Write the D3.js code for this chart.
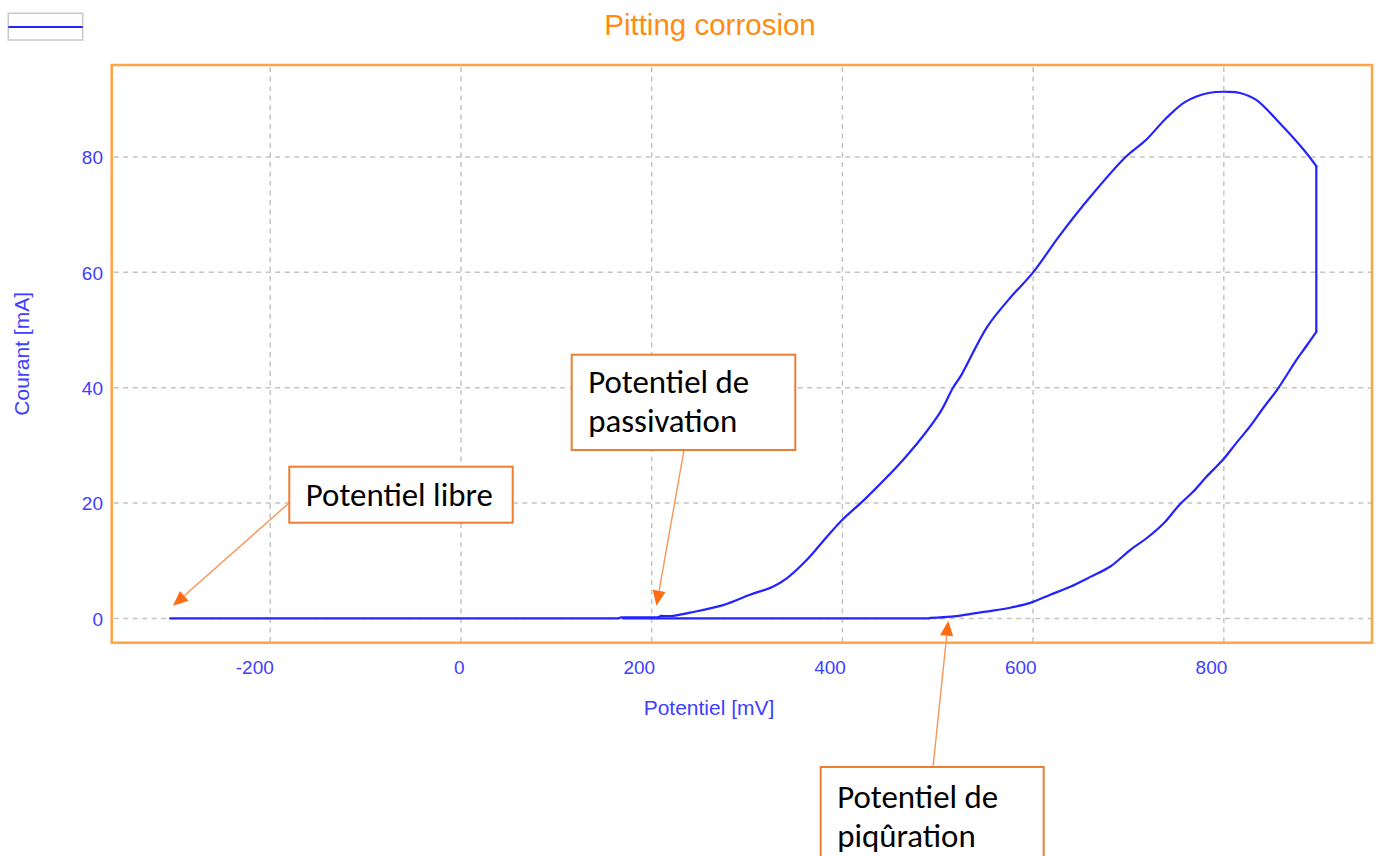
<!DOCTYPE html>
<html>
<head>
<meta charset="utf-8">
<script src="https://cdn.jsdelivr.net/npm/d3@7"></script>
<style>
  html, body { margin: 0; padding: 0; background: #ffffff; }
  svg { display: block; }
</style>
</head>
<body>
<svg id="chart" width="1378" height="856"></svg>
<script>
// Cyclic polarisation scan: potential (mV) and current (mA)
// Forward sweep, from the free potential up to the vertex
const forwardPotential = [-305, 165, 168, 207, 210, 222, 240, 275, 303, 327, 342, 363, 384, 400, 425, 467, 502, 516, 524, 552, 575, 600, 627, 660, 697, 718, 740, 760, 784, 805, 817, 834, 859, 884, 897];
const forwardCurrent   = [0, 0, 0.2, 0.2, 0.45, 0.45, 1.0, 2.3, 4.1, 5.5, 7.0, 10.2, 14.2, 17.1, 20.9, 28.1, 35.6, 40.0, 42.0, 50.6, 55.4, 60.0, 66.2, 73.1, 80.0, 82.9, 86.8, 89.6, 91.1, 91.3, 91.1, 89.9, 85.8, 81.2, 78.4];
// Reverse sweep, from the vertex back down to the passive range
const reversePotential = [897, 886, 876, 866, 857, 841, 827, 813, 799, 782, 768, 754, 737, 719, 702, 681, 660, 639, 618, 597, 577, 556, 535, 514, 493, 490, 170];
const reverseCurrent   = [49.7, 47.1, 44.8, 42.2, 39.9, 36.4, 33.2, 30.4, 27.5, 24.6, 22.0, 19.8, 16.5, 13.9, 11.9, 9.0, 7.2, 5.5, 4.1, 2.7, 1.9, 1.3, 0.8, 0.3, 0.1, 0, 0];

// Axis ticks
const potentialTicks = [-200, 0, 200, 400, 600, 800];
const currentTicks = [0, 20, 40, 60, 80];

// Annotation texts and the points they designate (mV, mA)
const noteLines = [["Potentiel libre"], ["Potentiel de", "passivation"], ["Potentiel de", "piqûration"]];
const notePotential = [-302, 205, 511];
const noteCurrent = [2.2, 2.2, -0.4];

// ---- layout ----
const plot = { left: 111.7, right: 1372, top: 65, bottom: 642.7 };
const noteBoxes = [
  { x: 289.3, y: 466.7, w: 223.4, h: 56, ax: 288.5, ay: 503.5, base: 505.7 },
  { x: 571.7, y: 354.7, w: 223.6, h: 95.3, ax: 684, ay: 450, base: 393.3 },
  { x: 820.7, y: 767, w: 223, h: 120, ax: 933, ay: 767, base: 807.6 }
];

const blue = "#2323ff";
const axisBlue = "#4040ff";
const frameOrange = "#ffa444";
const labelFont = "'Liberation Sans', Arial, sans-serif";

const svg = d3.select("#chart");

const x = d3.scaleLinear().domain([-366.3, 955.4]).range([plot.left, plot.right]);
const y = d3.scaleLinear().domain([-4.21, 95.95]).range([plot.bottom, plot.top]);

// Grid
const grid = svg.append("g")
  .attr("stroke", "#c4c4c4")
  .attr("stroke-width", 1.5)
  .attr("stroke-dasharray", "5,4.5");
grid.selectAll("line.vx").data(potentialTicks).join("line")
  .attr("class", "vx")
  .attr("x1", d => x(d)).attr("x2", d => x(d))
  .attr("y1", plot.top + 2).attr("y2", plot.bottom - 1);
grid.selectAll("line.hy").data(currentTicks).join("line")
  .attr("class", "hy")
  .attr("x1", plot.left + 2).attr("x2", plot.right - 1)
  .attr("y1", d => y(d)).attr("y2", d => y(d));

// Axes (labels only; the frame carries the axis lines)
const xAxis = d3.axisBottom(x).tickValues(potentialTicks).tickSize(0).tickPadding(0).tickFormat(d => String(d));
const gx = svg.append("g").attr("transform", `translate(0,${plot.bottom})`).call(xAxis);
gx.select(".domain").remove();
gx.selectAll("text")
  .attr("fill", axisBlue)
  .attr("font-family", labelFont)
  .attr("font-size", "19px")
  .attr("text-anchor", "end")
  .attr("dx", 3)
  .attr("dy", 0)
  .attr("y", 31);

const yAxis = d3.axisLeft(y).tickValues(currentTicks).tickSize(0).tickPadding(0).tickFormat(d => String(d));
const gy = svg.append("g").attr("transform", `translate(${plot.left - 8.7},0)`).call(yAxis);
gy.select(".domain").remove();
gy.selectAll("text")
  .attr("fill", axisBlue)
  .attr("font-family", labelFont)
  .attr("font-size", "19px")
  .attr("x", 0)
  .attr("dy", "0.36em");

// Curve: straight runs on the flat passive range and at the vertex,
// smoothed runs where the current rises and falls
const forward = forwardPotential.map((v, i) => [v, forwardCurrent[i]]);
const reverse = reversePotential.map((v, i) => [v, reverseCurrent[i]]);
const straight = d3.line().x(d => x(d[0])).y(d => y(d[1]));
const smooth = d3.line().x(d => x(d[0])).y(d => y(d[1])).curve(d3.curveCatmullRom.alpha(0.5));
const pieces = [
  { pts: forward.slice(0, 5), gen: straight },
  { pts: forward.slice(4), gen: smooth },
  { pts: [forward[forward.length - 1], reverse[0]], gen: straight },
  { pts: reverse.slice(0, 25), gen: smooth },
  { pts: reverse.slice(24), gen: straight }
];
svg.append("g")
  .attr("fill", "none")
  .attr("stroke", blue)
  .attr("stroke-width", 2.2)
  .attr("stroke-linejoin", "round")
  .attr("stroke-linecap", "round")
  .selectAll("path").data(pieces).join("path")
  .attr("d", p => p.gen(p.pts));

// Frame
svg.append("rect")
  .attr("x", plot.left).attr("y", plot.top)
  .attr("width", plot.right - plot.left).attr("height", plot.bottom - plot.top)
  .attr("fill", "none")
  .attr("stroke", frameOrange)
  .attr("stroke-width", 2.5);

// Title and axis titles
svg.append("text")
  .attr("x", 710).attr("y", 35)
  .attr("text-anchor", "middle")
  .attr("fill", "#ff8c10")
  .attr("font-family", labelFont)
  .attr("font-size", "29.5px")
  .text("Pitting corrosion");

svg.append("text")
  .attr("x", 709).attr("y", 715)
  .attr("text-anchor", "middle")
  .attr("fill", axisBlue)
  .attr("font-family", labelFont)
  .attr("font-size", "21px")
  .text("Potentiel [mV]");

svg.append("text")
  .attr("transform", `translate(29,${(plot.top + plot.bottom) / 2}) rotate(-90)`)
  .attr("text-anchor", "middle")
  .attr("fill", axisBlue)
  .attr("font-family", labelFont)
  .attr("font-size", "21px")
  .text("Courant [mA]");

// Legend swatch
svg.append("rect")
  .attr("x", 8.3).attr("y", 13.3).attr("width", 74.4).attr("height", 26.7)
  .attr("fill", "#ffffff").attr("stroke", "#c8c8c8").attr("stroke-width", 1.5);
svg.append("line")
  .attr("x1", 8.3).attr("x2", 82.7).attr("y1", 27).attr("y2", 27)
  .attr("stroke", blue).attr("stroke-width", 2.2);

// Annotations
const noteFont = "Carlito, Calibri, Lato, 'Open Sans', sans-serif";
const probe = svg.append("text").attr("font-family", noteFont).attr("font-size", "32px").text("Potentiel de");
const noteSize = 32 * 161 / probe.node().getComputedTextLength();
probe.remove();

const notes = svg.append("g");
noteLines.forEach((lines, i) => {
  const b = noteBoxes[i];
  const tx = x(notePotential[i]), ty = y(noteCurrent[i]);
  const g = notes.append("g");

  // arrow shaft and head
  const dx = tx - b.ax, dy = ty - b.ay;
  const len = Math.hypot(dx, dy);
  const ux = dx / len, uy = dy / len;
  const headLen = 15, headHalf = 6.5;
  const bx = tx - ux * headLen, by = ty - uy * headLen;
  g.append("line")
    .attr("x1", b.ax).attr("y1", b.ay).attr("x2", bx).attr("y2", by)
    .attr("stroke", "#f7965a").attr("stroke-width", 1.4);
  g.append("path")
    .attr("d", `M${tx},${ty}L${bx - uy * headHalf},${by + ux * headHalf}L${bx + uy * headHalf},${by - ux * headHalf}Z`)
    .attr("fill", "#ff6c14");

  g.append("rect")
    .attr("x", b.x).attr("y", b.y).attr("width", b.w).attr("height", b.h)
    .attr("fill", "#ffffff").attr("stroke", "#ed7d31").attr("stroke-width", 2);

  lines.forEach((t, k) => {
    g.append("text")
      .attr("x", b.x + 16.5).attr("y", b.base + k * 39)
      .attr("fill", "#000000")
      .attr("font-family", noteFont)
      .attr("font-size", noteSize + "px")
      .text(t);
  });
});
</script>
</body>
</html>
